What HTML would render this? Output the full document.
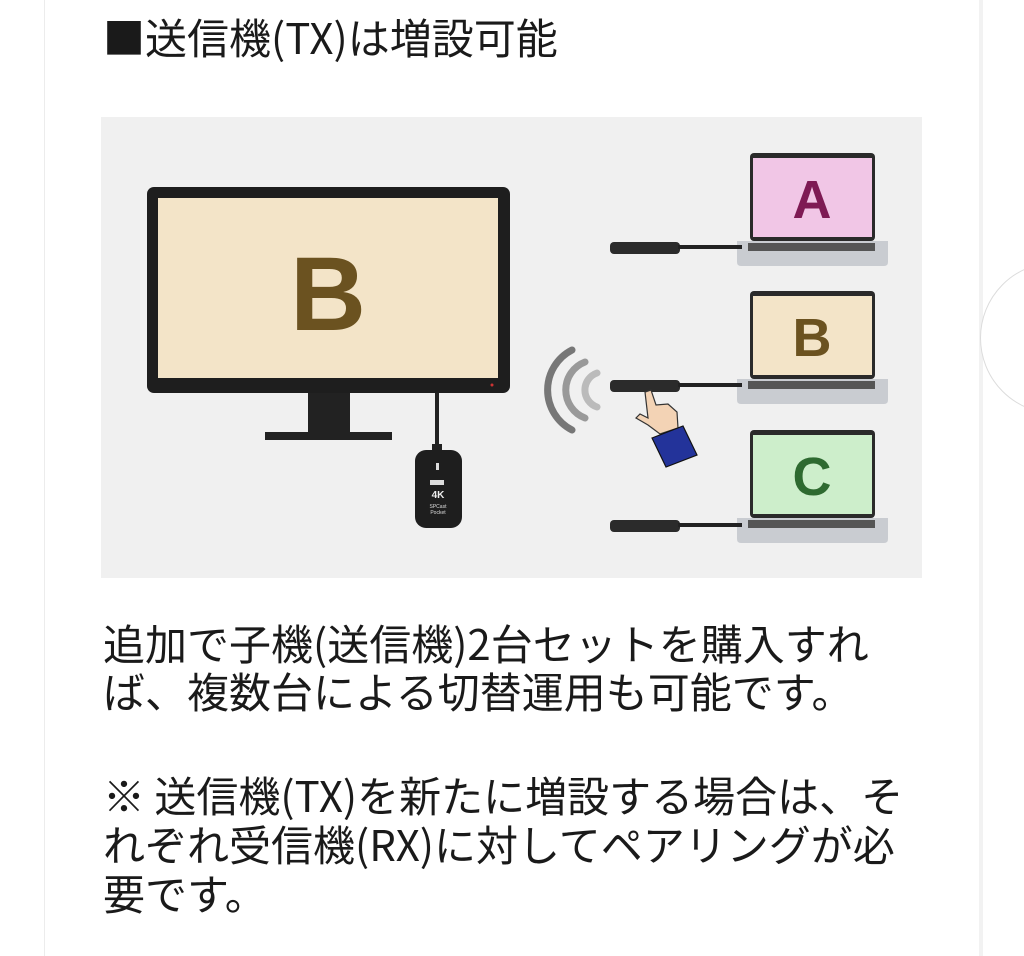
<!DOCTYPE html>
<html><head><meta charset="utf-8"><style>
html,body{margin:0;padding:0;width:1024px;height:956px;overflow:hidden;background:#fff;font-family:"Liberation Sans","Noto Sans CJK JP",sans-serif;color:#1a1a1a}
.card{position:absolute;left:44px;top:0;width:934px;height:956px;border-left:1px solid #ececec;border-right:4px solid #f2f2f2;background:#fff}
.circ{position:absolute;left:980px;top:262px;width:150px;height:150px;border-radius:50%;border:1px solid #dcdcdc;background:#fff}
.t{position:absolute;left:103px;white-space:nowrap;font-family:"Noto Sans CJK JP",sans-serif}
</style></head><body>
<div class="card"></div>
<div class="circ"></div>
<div class="t" style="top:7px;font-size:42px;line-height:60px">■送信機(TX)は増設可能</div>
<svg style="position:absolute;left:0;top:0" width="1024" height="956">
<rect x="101" y="117" width="821" height="461" fill="#f0f0f0"/>
<rect x="147" y="187" width="363" height="206" rx="7" fill="#1e1e1e"/>
<rect x="158" y="198" width="340" height="180" fill="#f3e4c8"/>
<circle cx="492" cy="385" r="1.5" fill="#c33"/>
<text x="328" y="330" font-family="Liberation Sans Narrow, Liberation Sans, sans-serif" font-weight="bold" font-size="105" fill="#6b5220" text-anchor="middle">B</text>
<rect x="308" y="393" width="42" height="40" fill="#222"/>
<rect x="265" y="432" width="127" height="8" fill="#222"/>
<rect x="435" y="393" width="4" height="55" fill="#222"/>
<rect x="432" y="444" width="10" height="8" fill="#222"/>
<rect x="415" y="450" width="47" height="78" rx="11" fill="#1e1e1e"/>
<rect x="436" y="463" width="3" height="7" fill="#ddd"/>
<rect x="430" y="480" width="14" height="5" fill="#ddd"/>
<text x="438" y="498" font-size="10" font-weight="bold" fill="#eee" text-anchor="middle" font-family="Liberation Sans">4K</text>
<text x="438" y="508" font-size="5" fill="#ddd" text-anchor="middle" font-family="Liberation Sans">SPCast</text>
<text x="438" y="514" font-size="5" fill="#ddd" text-anchor="middle" font-family="Liberation Sans">Pocket</text>
<g fill="none" stroke-linecap="round">
<path d="M572 350 A45 45 0 0 0 572 430" stroke="#777" stroke-width="7"/>
<path d="M585 362 A30 30 0 0 0 585 418" stroke="#999" stroke-width="7"/>
<path d="M597 373 A18 18 0 0 0 597 407" stroke="#bbb" stroke-width="7"/>
</g>
<g>
<rect x="750" y="153" width="125" height="88" rx="4" fill="#2a2a2a"/>
<rect x="753" y="158" width="119" height="79" fill="#f1c6e6"/>
<text x="812" y="218" font-family="Liberation Sans Narrow, Liberation Sans" font-weight="bold" font-size="54" fill="#7e1a54" text-anchor="middle">A</text>
<path d="M737 241 H888 V262 Q888 266 884 266 H741 Q737 266 737 262Z" fill="#c9ccd1"/>
<rect x="748" y="243" width="127" height="8" fill="#555"/>
<rect x="610" y="242" width="70" height="12" rx="4" fill="#2b2b2b"/>
<rect x="678" y="245" width="64" height="4" fill="#222"/>
<rect x="750" y="291" width="125" height="88" rx="4" fill="#2a2a2a"/>
<rect x="753" y="296" width="119" height="79" fill="#f3e4c8"/>
<text x="812" y="356" font-family="Liberation Sans Narrow, Liberation Sans" font-weight="bold" font-size="54" fill="#6b5220" text-anchor="middle">B</text>
<path d="M737 379 H888 V400 Q888 404 884 404 H741 Q737 404 737 400Z" fill="#c9ccd1"/>
<rect x="748" y="381" width="127" height="8" fill="#555"/>
<rect x="610" y="380" width="70" height="12" rx="4" fill="#2b2b2b"/>
<rect x="678" y="383" width="64" height="4" fill="#222"/>
<rect x="750" y="430" width="125" height="88" rx="4" fill="#2a2a2a"/>
<rect x="753" y="435" width="119" height="79" fill="#cdeecb"/>
<text x="812" y="495" font-family="Liberation Sans Narrow, Liberation Sans" font-weight="bold" font-size="54" fill="#2e6a30" text-anchor="middle">C</text>
<path d="M737 518 H888 V539 Q888 543 884 543 H741 Q737 543 737 539Z" fill="#c9ccd1"/>
<rect x="748" y="520" width="127" height="8" fill="#555"/>
<rect x="610" y="520" width="70" height="12" rx="4" fill="#2b2b2b"/>
<rect x="678" y="523" width="64" height="4" fill="#222"/>
</g>
<path d="M645 392 L651 390 L656 405 L668 404 L677 412 L678 428 L660 434 L648 425 L636 418 L640 414 L648 418Z" fill="#f3d3b5" stroke="#333" stroke-width="1.2"/>
<path d="M652 438 L683 426 L697 455 L666 467Z" fill="#23339a" stroke="#111" stroke-width="1.2"/>
</svg>
<div class="t" style="top:619px;font-size:42px;line-height:48px">追加で子機(送信機)2台セットを購入すれ<br>ば、複数台による切替運用も可能です。</div>
<div class="t" style="top:770px;font-size:42px;line-height:49px">※ 送信機(TX)を新たに増設する場合は、そ<br>れぞれ受信機(RX)に対してペアリングが必<br>要です。</div>
</body></html>
